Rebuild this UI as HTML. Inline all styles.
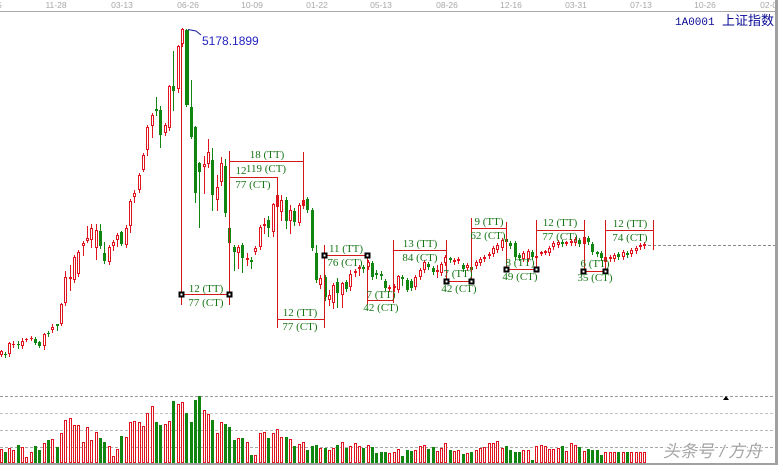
<!DOCTYPE html>
<html><head><meta charset="utf-8">
<style>
html,body{margin:0;padding:0;background:#fff;}
svg{display:block;}
.ax{font-family:"Liberation Sans",sans-serif;font-size:8.5px;fill:#a8a8a8;text-anchor:middle;}
.an{font-family:"Liberation Serif",serif;font-size:11px;fill:#157515;text-anchor:middle;}
</style></head>
<body>
<svg id="s" width="778" height="465" viewBox="0 0 778 465" xmlns="http://www.w3.org/2000/svg">
<rect width="778" height="465" fill="#fff"/>
<defs><clipPath id="cp"><rect x="0" y="0" width="775" height="465"/></clipPath></defs>
<g clip-path="url(#cp)">
<line x1="0" y1="11.5" x2="775" y2="11.5" stroke="#a8a8a8"/>
<text class="ax" x="-9" y="8">08-05</text>
<text class="ax" x="56" y="8">11-28</text>
<text class="ax" x="122" y="8">03-13</text>
<text class="ax" x="188" y="8">06-26</text>
<text class="ax" x="252" y="8">10-09</text>
<text class="ax" x="317" y="8">01-22</text>
<text class="ax" x="381" y="8">05-13</text>
<text class="ax" x="447" y="8">08-26</text>
<text class="ax" x="511" y="8">12-16</text>
<text class="ax" x="576" y="8">03-31</text>
<text class="ax" x="641" y="8">07-13</text>
<text class="ax" x="705" y="8">10-26</text>
<text class="ax" x="771" y="8">02-08</text>

<g stroke-dasharray="3,2" shape-rendering="crispEdges">
<line x1="0" y1="396.5" x2="775" y2="396.5" stroke="#9a9a9a"/>
<line x1="0" y1="413.5" x2="775" y2="413.5" stroke="#c4c4c4"/>
<line x1="0" y1="430.5" x2="775" y2="430.5" stroke="#b8b8b8"/>
<line x1="0" y1="447.5" x2="775" y2="447.5" stroke="#a8a8a8"/>
<line x1="648" y1="245.5" x2="775" y2="245.5" stroke="#8a8a8a"/>
</g>

<g id="vol" shape-rendering="crispEdges"></g>
<g id="cdl" shape-rendering="crispEdges"></g>

<path shape-rendering="crispEdges" fill="none" stroke="#d41818" stroke-width="1" d="
M181.5 29V305 M229.5 151V305 M181 294.5H230
M229 161.5H304 M303.5 152V207 M229 177.5H278 M277.5 177V328
M277 319.5H325 M324.5 245V328
M324 255.5H368 M367.5 255V305
M367 300.5H394 M393.5 240V303
M393 250.5H447 M446.5 240V282
M446 281.5H472 M471.5 218V282
M471 228.5H507 M506.5 222V270
M506 269.5H537 M536.5 220V270
M536 230.5H585 M584.5 220V272
M583 271.5H606 M605.5 220V272
M605 230.5H654 M653.5 220V250"/>

<g id="sq"></g>

<text class="an" x="206" y="292">12 (TT)</text>
<text class="an" x="206" y="306">77 (CT)</text>
<text class="an" x="267" y="158">18 (TT)</text>
<text class="an" x="241" y="174">12</text>
<text class="an" x="266" y="172">119 (CT)</text>
<text class="an" x="253" y="188">77 (CT)</text>
<text class="an" x="300" y="316">12 (TT)</text>
<text class="an" x="300" y="330">77 (CT)</text>
<text class="an" x="346" y="252">11 (TT)</text>
<text class="an" x="345" y="266">76 (CT)</text>
<text class="an" x="381" y="298">7 (TT)</text>
<text class="an" x="381" y="311">42 (CT)</text>
<text class="an" x="420" y="247">13 (TT)</text>
<text class="an" x="420" y="261">84 (CT)</text>
<text class="an" x="458" y="277">7 (TT)</text>
<text class="an" x="459" y="292">42 (CT)</text>
<text class="an" x="489" y="225">9 (TT)</text>
<text class="an" x="488" y="239">62 (CT)</text>
<text class="an" x="520" y="266">8 (TT)</text>
<text class="an" x="520" y="280">49 (CT)</text>
<text class="an" x="560" y="226">12 (TT)</text>
<text class="an" x="560" y="240">77 (CT)</text>
<text class="an" x="595" y="267">6 (TT)</text>
<text class="an" x="595" y="281">35 (CT)</text>
<text class="an" x="630" y="227">12 (TT)</text>
<text class="an" x="630" y="241">74 (CT)</text>

<path d="M188 29.5 L196 31 L201 35" fill="none" stroke="#1a1a9a" stroke-width="1"/>
<text x="202" y="45" style="font-family:'Liberation Sans',sans-serif;font-size:12px;fill:#2424c0;">5178.1899</text>

<text x="675" y="25" style="font-family:'Liberation Mono',monospace;font-size:11px;fill:#0a0a96;">1A0001</text>
<text x="722" y="25" style="font-family:'Liberation Sans','Noto Sans CJK SC',sans-serif;font-size:13px;fill:#0a0a96;">上证指数</text>

<polygon points="723,400 729,400 726,396" fill="#000"/>
<text x="663" y="457" transform="skewX(-12)" transform-origin="663 457" style="font-family:'Liberation Sans','Noto Sans CJK SC',sans-serif;font-size:17px;fill:#a4a4a4;stroke:#fff;stroke-width:2px;paint-order:stroke;">头条号 / 方舟</text>
</g>
<rect x="775" y="0" width="3" height="465" fill="#a0a0a0"/>
<rect x="0" y="463" width="775" height="2" fill="#a0a0a0"/>
</svg>
<script>
(function(){
var NS="http://www.w3.org/2000/svg";
var C=[
[1,350,351,355,356],[0,352,354,355,357],[1,342,343,354,356],[1,341,344,345,347],[0,341,344,345,348],
[1,338,341,346,348],[1,338,339,340,341],[1,336,338,339,340],[0,337,339,343,344],[0,341,342,346,347],
[1,333,334,346,349],[0,331,333,334,336],[1,324,327,330,332],[0,324,324,326,330],[1,303,304,324,325],
[1,271,277,303,305],[1,265,277,279,290],[1,255,257,280,282],[1,250,252,274,276],[1,241,243,246,255],
[1,226,238,241,242],[1,224,228,240,247],[1,224,230,248,259],[0,224,231,246,248],[0,242,253,261,263],
[1,245,247,262,264],[1,240,242,246,250],[1,233,235,240,246],[0,231,232,244,245],[1,225,228,245,247],
[1,199,201,226,232],[1,190,193,197,202],[1,173,175,190,192],[1,153,155,170,171],[1,125,127,150,155],
[1,113,115,126,137],[0,97,109,111,115],[0,106,110,135,147],[1,123,125,133,135],[1,85,86,128,130],
[0,51,86,91,110],[1,45,46,89,92],[1,28,29,44,46],[0,29,30,105,106],[0,80,107,137,138],
[0,126,127,193,202],[0,162,163,172,227],[1,156,164,167,193],[1,139,152,164,167],[0,148,160,195,210],
[1,175,187,200,210],[1,157,163,182,185],[0,159,166,213,216],[0,226,228,243,267],[0,245,247,252,270],
[1,245,247,253,268],[0,243,245,258,272],[1,253,258,260,265],[0,257,260,262,268],[1,246,248,252,254],
[1,225,227,247,249],[1,218,224,226,233],[0,216,220,228,236],[1,203,204,232,236],[1,192,195,207,210],
[1,195,200,212,220],[0,197,200,221,228],[1,205,210,221,233],[0,208,211,222,225],[1,203,205,223,225],
[1,194,200,206,208],[0,197,199,210,212],[0,208,210,248,250],[0,245,253,280,282],[1,275,278,285,288],
[0,275,277,297,300],[1,290,295,300,305],[1,283,285,303,308],[0,278,282,293,307],[1,282,283,295,307],
[0,280,282,289,291],[1,270,274,287,290],[1,269,271,273,276],[1,265,267,269,275],[0,265,267,269,272],
[1,260,262,267,269],[0,261,263,277,279],[0,270,273,275,278],[0,271,274,276,279],[0,279,281,288,290],
[1,285,287,289,291],[1,284,286,288,291],[1,275,276,290,292],[0,275,277,279,285],[0,278,280,290,291],
[0,279,281,288,290],[1,275,277,287,289],[1,268,270,277,279],[1,260,262,270,272],[0,262,264,267,269],
[0,266,268,272,274],[1,265,270,272,277],[1,262,264,273,275],[1,255,257,263,265],[0,257,258,260,262],
[1,258,260,262,264],[1,257,259,261,263],[0,263,265,269,271],[1,263,265,268,270],[0,265,267,270,272],
[1,260,262,266,268],[1,257,259,263,265],[1,255,257,259,261],[1,252,254,256,258],[1,246,248,254,256],
[1,243,245,250,252],[1,238,240,248,250],[0,237,239,242,244],[0,241,243,246,248],[0,241,243,257,259],
[0,253,255,258,260],[1,251,253,259,261],[1,249,251,259,261],[0,250,252,257,259],[1,254,256,258,260],
[1,251,252,254,255],[1,250,251,253,254],[1,246,248,253,255],[1,241,243,247,249],[1,240,242,245,247],
[0,240,242,244,246],[1,241,242,244,245],[1,239,241,243,245],[1,237,239,243,245],[0,238,240,244,246],
[1,235,237,244,246],[0,236,238,242,244],[0,242,244,252,254],[0,251,252,254,256],[0,251,253,258,260],
[1,255,257,262,264],[1,255,257,259,261],[1,253,255,259,261],[0,252,254,257,259],[1,250,252,257,259],
[0,251,253,255,257],[1,248,250,254,256],[1,246,248,251,253],[1,243,245,247,249],[1,242,244,246,248]
];
var V=[449,452,448,450,445,447,457,452,446,450,
443,440,439,447,433,420,418,425,425,442,
427,440,432,438,442,446,456,449,436,437,
422,421,422,426,413,406,422,425,424,421,
401,404,402,413,422,400,396,410,414,420,
433,422,424,427,440,438,438,442,455,455,
433,432,438,433,429,437,437,439,446,444,
442,450,446,445,448,448,450,448,445,442,
448,446,443,446,448,445,447,453,452,452,
453,452,449,456,450,451,450,446,445,449,
447,451,448,443,450,451,450,454,453,452,
450,448,447,443,443,441,448,446,450,452,
452,450,450,460,446,445,446,449,449,448,
446,451,443,445,447,451,449,450,450,455,
452,452,452,452,452,452,452,452,452,452];
var RED="#e0141e",GRN="#108510";
function el(t,a,p){var e=document.createElementNS(NS,t);for(var k in a)e.setAttribute(k,a[k]);p.appendChild(e);return e;}
var gv=document.getElementById("vol"),gc=document.getElementById("cdl"),gs=document.getElementById("sq");
for(var i=0;i<C.length;i++){
  var x=Math.round(0.5+4.32*i),c=C[i],col=c[0]?RED:GRN;
  var top=V[i],B=463;
  if(c[0]){el("rect",{x:x-0.5,y:top+0.5,width:2,height:Math.max(B-top-1,0),fill:"#fff",stroke:RED,"stroke-width":1},gv);}
  else{el("rect",{x:x-1,y:top,width:3,height:B-top,fill:GRN},gv);}
  el("line",{x1:x+0.5,y1:c[1],x2:x+0.5,y2:c[4]+1,stroke:col,"stroke-width":1},gc);
  var h=c[3]-c[2];
  if(c[0]){
    if(h<=1){el("rect",{x:x-1,y:c[2],width:3,height:1,fill:RED},gc);}
    else{el("rect",{x:x-0.5,y:c[2]+0.5,width:2,height:h-1,fill:"#fff",stroke:RED,"stroke-width":1},gc);}
  }else{
    var w=(i==43)?4:3;
    el("rect",{x:x-1,y:c[2],width:w,height:Math.max(h,1),fill:GRN},gc);
  }
}
var S=[[181,294],[229,294],[324,255],[367,255],[446,281],[471,281],[506,269],[536,269],[583,271],[605,271]];
for(var j=0;j<S.length;j++){var p=S[j];
  el("rect",{x:p[0]-2.5,y:p[1]-2.5,width:6,height:6,fill:"#000"},gs);
  el("rect",{x:p[0]-0.5,y:p[1]-0.5,width:2,height:2,fill:"#fff"},gs);}
})();
</script>
</body></html>
